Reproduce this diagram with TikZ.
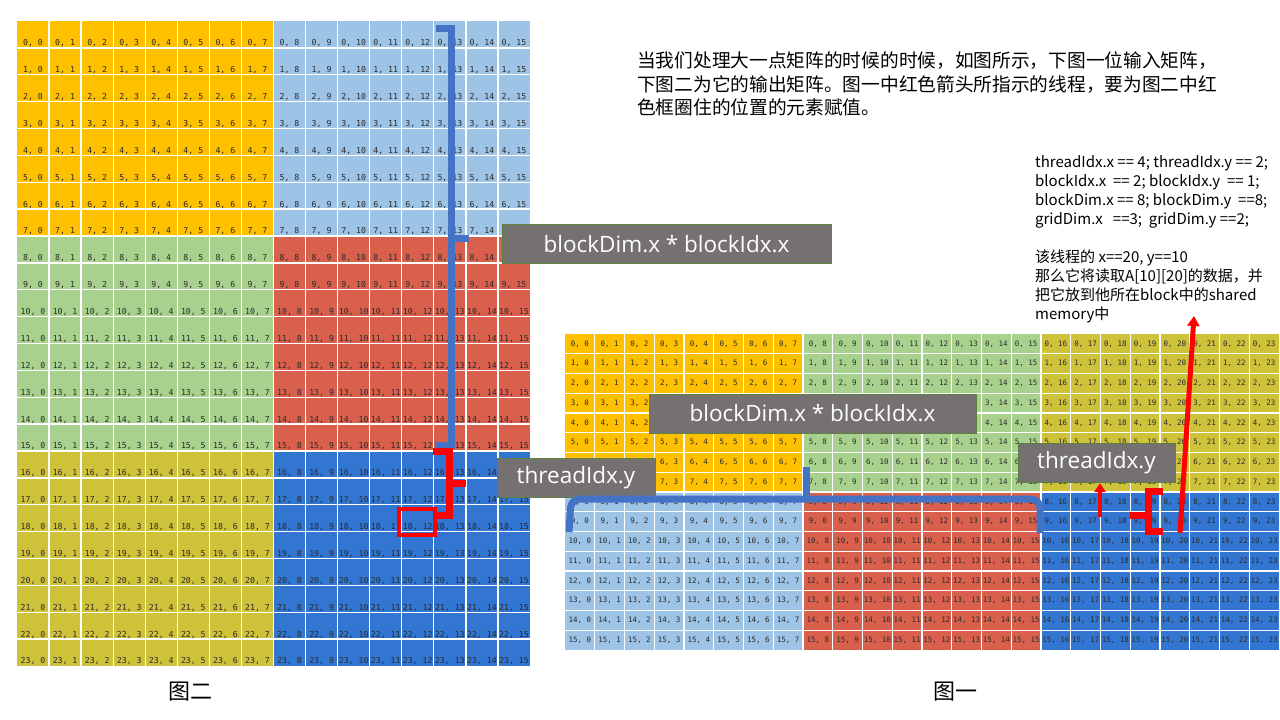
\documentclass[tikz,border=0pt]{standalone}
\usepackage{fontspec}
\setmainfont{Noto Sans CJK SC}
\newfontfamily\lblfont{Open Sans}
\newfontfamily\cellfont{DejaVu Sans Mono}
\usetikzlibrary{arrows.meta}
\definecolor{corange}{HTML}{FFC000}
\definecolor{clblue}{HTML}{9DC3E6}
\definecolor{cgreen}{HTML}{A9D18E}
\definecolor{cred}{HTML}{DA604E}
\definecolor{colive}{HTML}{CFC23B}
\definecolor{cdblue}{HTML}{3276D2}
\definecolor{cbrace}{HTML}{4472C4}
\definecolor{cbox}{HTML}{767171}
\definecolor{cboxline}{HTML}{5E7F3F}
\definecolor{ctxt}{HTML}{2A2A2A}
\tikzset{
  gridline/.style={white,line width=1.3pt},
  lcell/.style={font=\cellfont\fontsize{8.2}{8.2}\selectfont,text=ctxt,inner sep=0pt,anchor=center},
  rcell/.style={font=\cellfont\fontsize{7.5}{7.5}\selectfont,text=ctxt,inner sep=0pt,anchor=center},
  graybox/.style={fill=cbox,draw=cboxline,line width=0.8pt,text=white,inner sep=0pt,
    font=\lblfont\fontsize{22.5}{22.5}\selectfont,minimum height=39pt},
  bluebr/.style={cbrace,line width=7pt},
  redbr/.style={red,line width=7pt},
  para/.style={anchor=base west,inner sep=0pt,font=\fontsize{18.7}{24}\selectfont,text=black},
  info/.style={anchor=base west,inner sep=0pt,font=\fontsize{15}{19}\selectfont,text=black},
  figlbl/.style={inner sep=0pt,font=\fontsize{22}{22}\selectfont,text=black}
}
\begin{document}
\begin{tikzpicture}[x=1pt,y=-1pt]
\useasboundingbox (0,0) rectangle (1280,720);
\fill[white] (0,0) rectangle (1280,720);

% ---------- left grid (图二): 24 rows x 16 cols ----------
\fill[corange] (17,21) rectangle (273.5,236);
\fill[clblue] (273.5,21) rectangle (530,236);
\fill[cgreen] (17,236) rectangle (273.5,451);
\fill[cred] (273.5,236) rectangle (530,451);
\fill[colive] (17,451) rectangle (273.5,666);
\fill[cdblue] (273.5,451) rectangle (530,666);
\foreach \c in {1,...,15} \draw[gridline] ({17+\c*32.0625},21) -- ({17+\c*32.0625},666);
\foreach \r in {1,...,23} \draw[gridline] (17,{21+\r*26.875}) -- (530,{21+\r*26.875});
\foreach \r in {0,...,23}{
  \foreach \c in {0,...,15}{
    \node[lcell] (L-\r-\c) at ({17+(\c+0.5)*32.0625},{21+(\r+1)*26.875-4.5}) {\r, \c};
  }
}

% ---------- right grid (图一): 16 rows x 24 cols ----------
\fill[corange] (565,334) rectangle (803,492);
\fill[cgreen] (803,334) rectangle (1041,492);
\fill[colive] (1041,334) rectangle (1279,492);
\fill[clblue] (565,492) rectangle (803,650);
\fill[cred] (803,492) rectangle (1041,650);
\fill[cdblue] (1041,492) rectangle (1279,650);
\foreach \c in {1,...,23} \draw[gridline] ({565+\c*29.75},334) -- ({565+\c*29.75},650);
\foreach \r in {1,...,15} \draw[gridline] (565,{334+\r*19.75}) -- (1279,{334+\r*19.75});
\foreach \r in {0,...,15}{
  \foreach \c in {0,...,23}{
    \node[rcell] (R-\r-\c) at ({565+(\c+0.5)*29.75},{334+(\r+0.5)*19.75}) {\r, \c};
  }
}

% ---------- overlays on left grid ----------
\draw[bluebr] (436,28) -- (451,28) -- (451,445) -- (435,445);
\draw[bluebr] (451,238) -- (469,238);
\draw[redbr] (433,451) -- (449,451) -- (449,515) -- (433,515);
\draw[redbr] (449,483) -- (466,483);
\draw[red,line width=3.5pt] (399,509) rectangle (435,535);

\node[graybox,minimum width=329pt] (bdL) at (666.5,244) {blockDim.x * blockIdx.x};
\node[graybox,minimum width=158pt] (tyL) at (576,477.5) {threadIdx.y};

% ---------- overlays on right grid ----------
\draw[bluebr,rounded corners=9pt] (569,532) -- (571,499) -- (1040,499) -- (1040,533);
\draw[bluebr] (806,499) -- (806,467);
\node[graybox,minimum width=327pt] (bdR) at (812.5,413.5) {blockDim.x * blockIdx.x};
\node[graybox,minimum width=157pt] (tyR) at (1096.5,462.5) {threadIdx.y};

\draw[redbr] (1163,491) -- (1148,491) -- (1148,531) -- (1163,531);
\draw[redbr] (1148,515) -- (1130,515);
\coordinate (a1s) at (1100,517);
\coordinate (a1e) at (1100,483);
\draw[red,line width=4pt,-{Triangle[width=11pt,length=9pt]}] (a1s) -- (a1e);
\coordinate (a2s) at (1180,533);
\coordinate (a2e) at (1194,316);
\draw[red,line width=5pt,-{Triangle[width=12pt,length=10pt]}] (a2s) -- (a2e);

% ---------- texts ----------
\node[para] (p1) at (637,67) {当我们处理大一点矩阵的时候的时候，如图所示，下图一位输入矩阵，};
\node[para] (p2) at (637,91) {下图二为它的输出矩阵。图一中红色箭头所指示的线程，要为图二中红};
\node[para] (p3) at (637,114) {色框圈住的位置的元素赋值。};

\node[info] (i1) at (1035,167) {threadIdx.x == 4; threadIdx.y == 2;};
\node[info] (i2) at (1035,186) {blockIdx.x\ \ == 2; blockIdx.y\ \ == 1;};
\node[info] (i3) at (1035,205) {blockDim.x == 8; blockDim.y\ \ ==8;};
\node[info] (i4) at (1035,224) {gridDim.x\ \ \ ==3;\ \ gridDim.y ==2;};
\node[info] (i5) at (1035,262) {该线程的 x==20, y==10};
\node[info] (i6) at (1035,281) {那么它将读取A[10][20]的数据，并};
\node[info] (i7) at (1035,300) {把它放到他所在block中的shared};
\node[info] (i8) at (1035,319) {memory中};

\node[figlbl] (f2) at (190,692) {图二};
\node[figlbl] (f1) at (955,692) {图一};
\end{tikzpicture}
\end{document}
